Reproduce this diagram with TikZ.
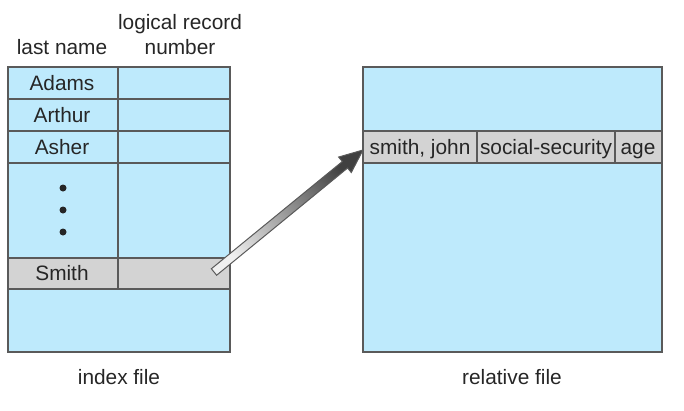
\documentclass[tikz,border=0pt]{standalone}
\usepackage{fontspec}
\setmainfont{Liberation Sans}
\usetikzlibrary{calc}
\definecolor{fileblue}{RGB}{190,234,252}
\definecolor{rowgray}{RGB}{211,211,211}
\definecolor{edgegray}{RGB}{90,90,90}
\tikzset{
  filebox/.style={fill=fileblue, draw=edgegray, line width=0.8pt},
  rowbox/.style={fill=rowgray, draw=edgegray, line width=0.8pt},
  sep/.style={draw=edgegray, line width=0.8pt},
  field/.style={text height=1.6ex, text depth=0.45ex}
}

\begin{document}
\begin{tikzpicture}[x=0.6pt, y=-0.6pt, font=\fontsize{12.5}{15}\selectfont, text=black!85]
  \useasboundingbox (0,0) rectangle (684,411);

  % index file
  \path[filebox] (8,67) rectangle (230,352);
  \path[rowbox] (8,258) rectangle (230,289);
  \draw[sep] (8,99)--(230,99);
  \draw[sep] (8,131)--(230,131);
  \draw[sep] (8,163)--(230,163);
  \draw[sep] (118,67)--(118,289);

  \node (lastname) at (62,47) {last name};
  \node[align=center] (recnum) at (180,35) {logical record\\number};
  \node[field] (adams) at (62,85) {Adams};
  \node[field] (arthur) at (62,117) {Arthur};
  \node[field] (asher) at (62,149) {Asher};
  \foreach \y in {188,210,232}
    \fill[black!85] (63,\y) circle (2.1pt);
  \node[field] (smith) at (62,275) {Smith};
  \node (index) at (119,377) {index file};

  % relative file
  \path[filebox] (363,67) rectangle (662,352);
  \path[rowbox] (363,131) rectangle (662,163);
  \draw[sep] (477,131)--(477,163);
  \draw[sep] (615,131)--(615,163);

  \node[field] (recname) at (420,149) {smith, john};
  \node[field] (recssn) at (546,149) {social-security};
  \node[field] (recage) at (638,149) {age};
  \node (relative) at (512,377) {relative file};

  % pointer
  \coordinate (tail) at (214,272);
  \coordinate (tip) at (363,150);
  \coordinate (hb) at ($(tip)!14pt!(tail)$);
  \shade[left color=gray!12, right color=black!75, shading angle=130, draw=edgegray, line width=0.6pt]
    ($(tail)!2.5pt!90:(tip)$) -- ($(hb)!2.5pt!-90:(tail)$) -- ($(hb)!6pt!-90:(tail)$) -- (tip)
    -- ($(hb)!6pt!90:(tail)$) -- ($(hb)!2.5pt!90:(tail)$) -- ($(tail)!2.5pt!-90:(tip)$) -- cycle;
\end{tikzpicture}
\end{document}
